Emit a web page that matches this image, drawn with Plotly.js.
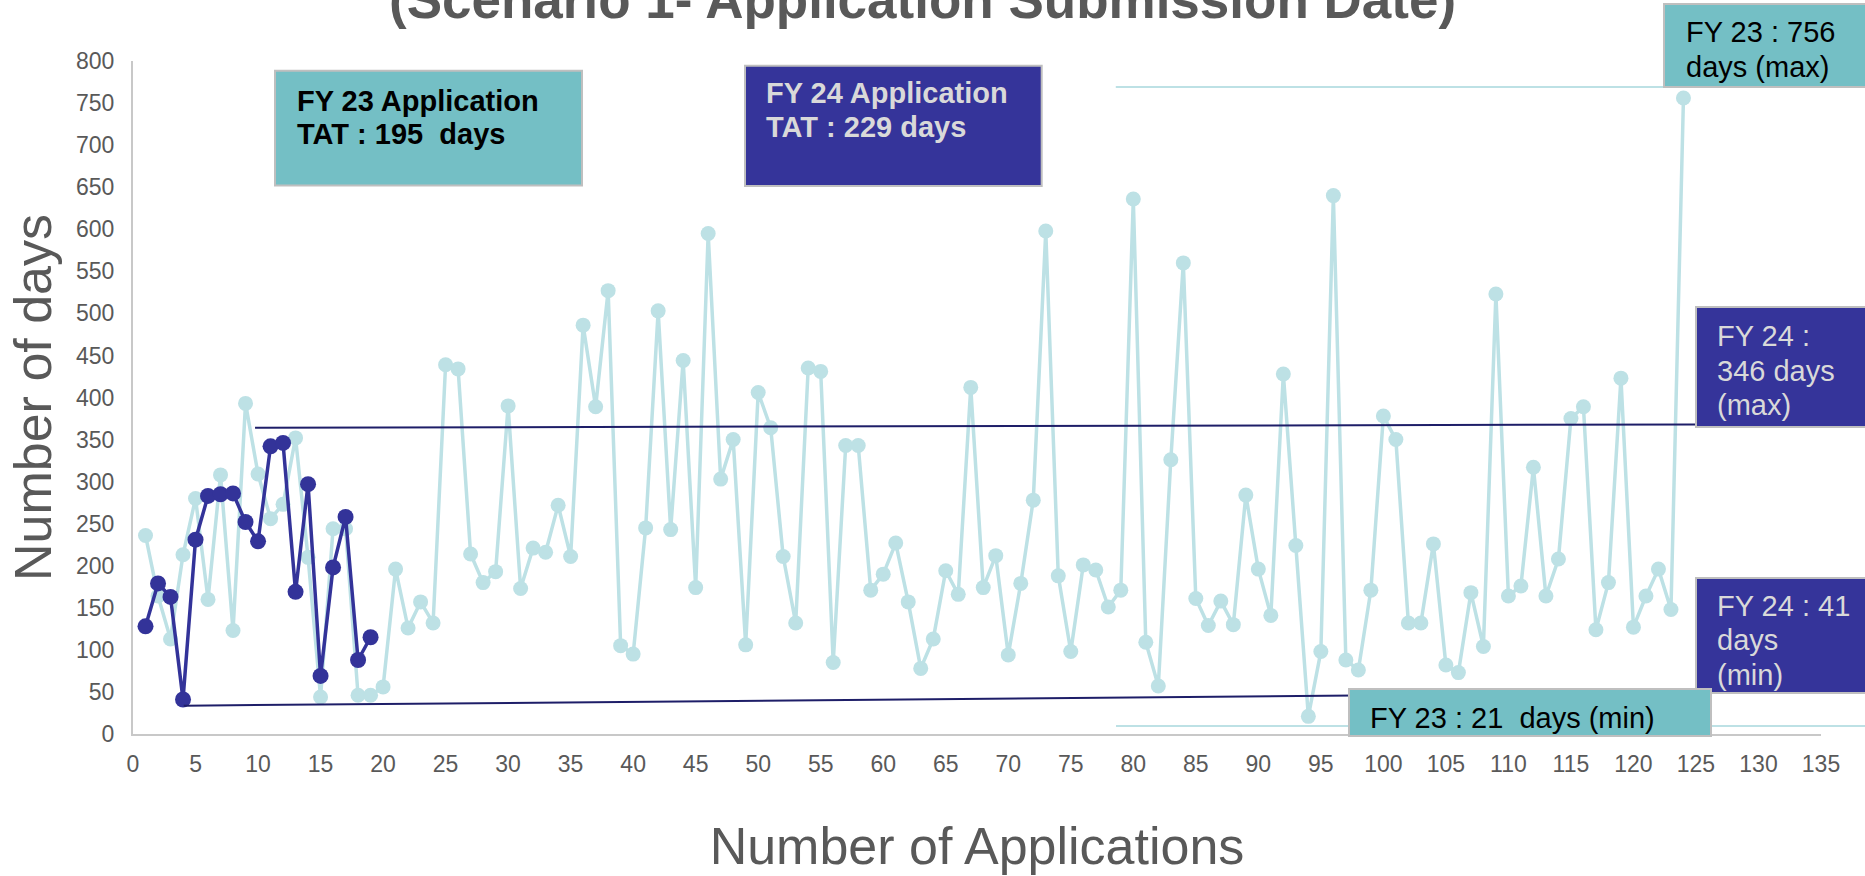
<!DOCTYPE html>
<html>
<head>
<meta charset="utf-8">
<script src="https://cdn.plot.ly/plotly-3.0.1.min.js"></script>
<style>
html,body{margin:0;padding:0;background:#fff;}
#chart{width:1865px;height:876px;}
</style>
</head>
<body>
<div id="chart"></div>
<script>
// ---- data ----
const fy23Days = [236,164,113,213,280,160,308,123,393,309,256,273,352,210,44,244,244,46,46,56,
  196,126,157,132,439,434,214,180,193,390,173,221,216,272,211,486,389,527,105,95,
  245,503,243,444,174,595,303,350,106,406,364,211,132,435,431,85,343,343,171,190,
  227,157,78,113,194,166,412,174,212,94,179,278,598,188,98,201,195,151,171,636,
  109,57,326,560,161,129,158,130,284,196,141,428,224,21,98,640,88,76,171,378,
  350,132,132,226,82,73,168,104,523,164,176,317,164,208,375,389,124,180,423,127,
  164,196,148,756];
const fy24Days = [128,179,163,41,231,283,285,286,252,229,342,346,169,297,69,198,258,88,115];
const fy23Apps = fy23Days.map((_, i) => i + 1);
const fy24Apps = fy24Days.map((_, i) => i + 1);

const titleText = "(Scenario 1- Application Submission Date)";
const xTitle = "Number of Applications";
const yTitle = "Number of days";
const boxTexts = {
  fy23tat: ["FY 23 Application", "TAT : 195\u00a0\u00a0days"],
  fy24tat: ["FY 24 Application", "TAT : 229 days"],
  fy23max: ["FY 23 : 756", "days (max)"],
  fy24max: ["FY 24 :", "346 days", "(max)"],
  fy24min: ["FY 24 : 41", "days", "(min)"],
  fy23min: ["FY 23 : 21\u00a0\u00a0days (min)"]
};

// ---- geometry helpers (pixel -> paper) ----
const W = 1865, H = 876;
const M = {l:133, r:44, t:61, b:142};
const PW = W - M.l - M.r, PH = H - M.t - M.b;
const px = x => (x - M.l) / PW;
const py = y => (H - M.b - y) / PH;

const TEAL = "#74BFC5", INDIGO = "#35349A", LIGHT = "#BDE1E5", DARK = "#333399", NAVY = "#1E1E68";
const FONT = "Liberation Sans, Arial, sans-serif";

function rect(x0, y0, x1, y1, fill) {
  return {type:"rect", xref:"paper", yref:"paper", x0:px(x0), x1:px(x1), y0:py(y1), y1:py(y0),
    fillcolor:fill, line:{color:"#BFBFBF", width:2}, layer:"above"};
}
const annotations = [];
function lines(textArr, left, baselines, size, color, bold) {
  textArr.forEach((t, i) => {
    annotations.push({xref:"paper", yref:"paper", x:px(left), y:py(baselines[i] - 0.3465*size),
      xanchor:"left", yanchor:"middle", showarrow:false, borderpad:0,
      text: bold ? "<b>" + t + "</b>" : t,
      font:{family:FONT, size:size, color:color}});
  });
}
lines(boxTexts.fy23tat, 296, [111, 144.3], 29, "#000000", true);
lines(boxTexts.fy24tat, 764.6, [102.7, 137.3], 29, "#D9D9D9", true);
lines(boxTexts.fy23max, 1685, [41.7, 76.7], 29, "#000000", false);
lines(boxTexts.fy24max, 1716, [345.7, 380.7, 415], 29, "#D9D9D9", false);
lines(boxTexts.fy24min, 1716, [616, 650, 685], 29, "#D9D9D9", false);
lines(boxTexts.fy23min, 1368.5, [728], 29, "#000000", false);
annotations.push({xref:"paper", yref:"paper", x:px(922), y:py(18 - 0.3465*53), xanchor:"center", yanchor:"middle",
  showarrow:false, borderpad:0, text:"<b>" + titleText + "</b>", font:{family:FONT, size:53, color:"#595959"}});

const shapes = [
  {type:"line", xref:"x", yref:"y", x0:9.76, y0:364, x1:125, y1:368, line:{color:NAVY, width:2}, layer:"above"},
  {type:"line", xref:"x", yref:"y", x0:4.06, y0:33.6, x1:125, y1:49.3, line:{color:NAVY, width:2}, layer:"above"},
  {type:"line", xref:"x", yref:"y", x0:78.6, y0:769, x1:122.5, y1:769, line:{color:LIGHT, width:2}, layer:"above"},
  {type:"line", xref:"paper", yref:"paper", x0:px(1116), y0:py(726), x1:px(1870), y1:py(726), line:{color:LIGHT, width:2}, layer:"above"},
  rect(275, 70.7, 582, 185.5, TEAL),
  rect(745, 65.7, 1041.7, 186, INDIGO),
  rect(1664, 4, 1870, 87, TEAL),
  rect(1696, 307, 1870, 427, INDIGO),
  rect(1696, 578, 1870, 693, INDIGO),
  rect(1349, 689, 1711, 736, TEAL)
];

const traces = [
  {x:fy23Apps, y:fy23Days, type:"scatter", mode:"lines+markers", name:"FY 23",
   line:{color:LIGHT, width:3.5}, marker:{color:LIGHT, size:15}, cliponaxis:false},
  {x:fy24Apps, y:fy24Days, type:"scatter", mode:"lines+markers", name:"FY 24",
   line:{color:DARK, width:3.5}, marker:{color:DARK, size:16}, cliponaxis:false}
];

const axisCommon = {showgrid:false, zeroline:false, showline:true, linecolor:"#C8C8C8", linewidth:2,
  ticks:"", tickfont:{family:FONT, size:23, color:"#595959"}, fixedrange:true};

const layout = {
  width:W, height:H, margin:M, showlegend:false,
  paper_bgcolor:"#fff", plot_bgcolor:"#fff",
  font:{family:FONT, color:"#595959"},
  xaxis:Object.assign({}, axisCommon, {range:[0,135], tick0:0, dtick:5, ticklabelstandoff:8,
    title:{text:xTitle, font:{family:FONT, size:52, color:"#595959"}, standoff:52}}),
  yaxis:Object.assign({}, axisCommon, {range:[0,800], tick0:0, dtick:50, ticklabelstandoff:12,
    title:{text:yTitle, font:{family:FONT, size:52, color:"#595959"}, standoff:8}}),
  shapes:shapes, annotations:annotations
};

Plotly.newPlot("chart", traces, layout, {displayModeBar:false, staticPlot:true});
</script>
</body>
</html>
